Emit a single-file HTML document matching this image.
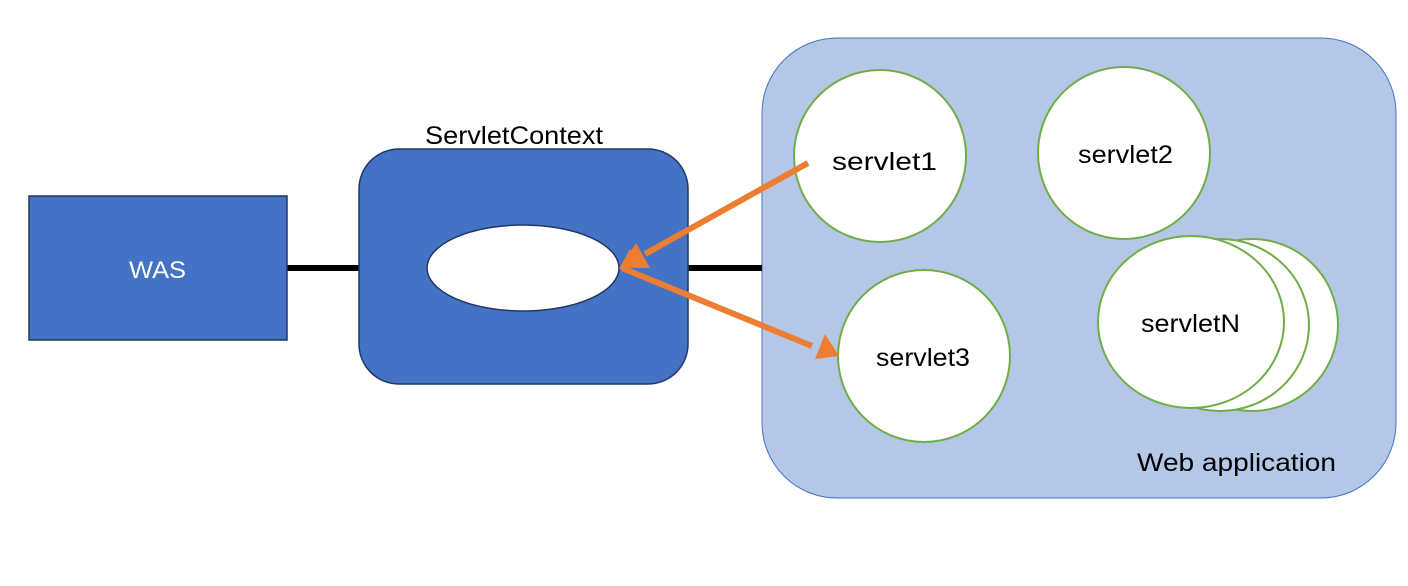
<!DOCTYPE html>
<html><head><style>body{margin:0;background:#fff}</style></head><body>
<svg width="1408" height="581" xmlns="http://www.w3.org/2000/svg" font-family="Liberation Sans, sans-serif">
<rect x="762" y="38" width="634" height="460" rx="75" fill="#b4c7e7" stroke="#4472c4" stroke-width="1"/>
<line x1="287" y1="268" x2="359" y2="268" stroke="#000" stroke-width="6"/>
<line x1="688" y1="268" x2="762" y2="268" stroke="#000" stroke-width="6"/>
<rect x="29" y="196" width="258" height="144" fill="#4472c4" stroke="#1f3864" stroke-width="1.5"/>
<text x="129" y="278" font-size="24" fill="#fff" textLength="57" lengthAdjust="spacingAndGlyphs">WAS</text>
<rect x="359" y="149" width="329" height="235" rx="40" fill="#4472c4" stroke="#1f3864" stroke-width="1.5"/>
<text x="425" y="144" font-size="25" textLength="178" lengthAdjust="spacingAndGlyphs">ServletContext</text>
<ellipse cx="523" cy="268" rx="96" ry="43" fill="#fff" stroke="#1f3864" stroke-width="1.5"/>
<g fill="#fff" stroke="#70ad47" stroke-width="2">
<circle cx="880" cy="156" r="86"/>
<circle cx="1124" cy="153" r="86"/>
<circle cx="924" cy="356" r="86"/>
<ellipse cx="1252" cy="325" rx="86" ry="86"/>
<ellipse cx="1220" cy="325" rx="89" ry="86"/>
<ellipse cx="1191" cy="322" rx="93" ry="86"/>
</g>
<g font-size="25" lengthAdjust="spacingAndGlyphs">
<text x="832" y="170" textLength="105" lengthAdjust="spacingAndGlyphs">servlet1</text>
<text x="1078" y="163" textLength="95" lengthAdjust="spacingAndGlyphs">servlet2</text>
<text x="876" y="366" textLength="94" lengthAdjust="spacingAndGlyphs">servlet3</text>
<text x="1141" y="332" textLength="99" lengthAdjust="spacingAndGlyphs">servletN</text>
<text x="1137" y="471" textLength="199" lengthAdjust="spacingAndGlyphs">Web application</text>
</g>
<g stroke="#ed7d31" stroke-width="6" fill="#ed7d31">
<line x1="808" y1="163" x2="645" y2="254"/>
<line x1="622" y1="268" x2="812" y2="346"/>
</g>
<polygon points="619,269 630,249 643,267" fill="#ed7d31" transform="translate(0,0)"/>
<polygon points="620,268 636,243 650,268" fill="#ed7d31"/>
<polygon points="839,356 815,359 825,334" fill="#ed7d31"/>
</svg>
</body></html>
